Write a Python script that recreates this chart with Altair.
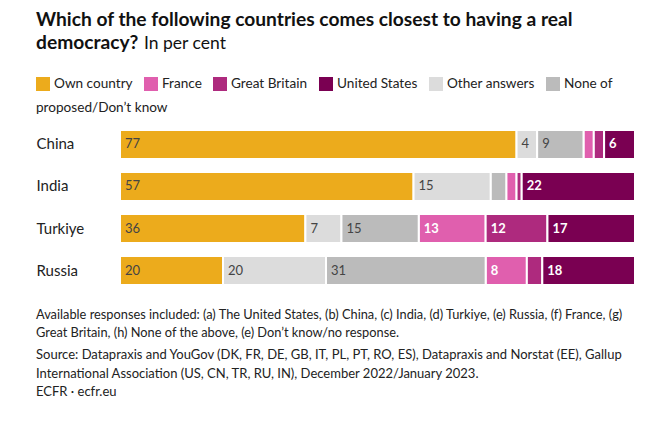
import altair as alt
import pandas as pd

countries = ["China", "India", "Turkiye", "Russia"]
categories = ["Own country", "France", "Great Britain", "United States",
              "Other answers", "None of proposed/Don't know"]
stack_order = ["Own country", "Other answers", "None of proposed/Don't know",
               "France", "Great Britain", "United States"]
colors = ["#ECAB1C", "#E05FAE", "#AE2A7E", "#7A0052", "#DCDCDC", "#BBBBBB"]
light_text = ["France", "Great Britain", "United States"]

own = [77, 57, 36, 20]
france = [2, 2, 13, 8]
britain = [2, 1, 12, 3]
usa = [6, 22, 17, 18]
other = [4, 15, 7, 20]
none_dk = [9, 3, 15, 31]

series = {
    "Own country": own,
    "France": france,
    "Great Britain": britain,
    "United States": usa,
    "Other answers": other,
    "None of proposed/Don't know": none_dk,
}

rows = []
for cat, vals in series.items():
    for c, v in zip(countries, vals):
        rows.append({
            "country": c,
            "category": cat,
            "value": v,
            "order": stack_order.index(cat),
            "label": str(v) if v >= 4 else "",
            "light": cat in light_text,
        })
df = pd.DataFrame(rows)

title_bold = ["Which of the following countries comes closest to having a real", "democracy?"]
title_rest = "In per cent"
legend_wrap = "proposed/Don\u2019t know"
note_lines = ("Available responses included: (a) The United States, (b) China, (c) India, (d) Turkiye, (e) Russia, (f) France, (g)\n"
              "Great Britain, (h) None of the above, (e) Don\u2019t know/no response.")
source_lines = ("Source: Datapraxis and YouGov (DK, FR, DE, GB, IT, PL, PT, RO, ES), Datapraxis and Norstat (EE), Gallup\n"
                "International Association (US, CN, TR, RU, IN), December 2022/January 2023.\n"
                "ECFR \u00b7 ecfr.eu")

FONT = "Lato"
W, H = 515, 155

base = alt.Chart(df).transform_stack(
    stack="value", groupby=["country"],
    sort=[alt.SortField("order", order="ascending")], as_=["x0", "x1"]
)

yenc = alt.Y("country:N", sort=countries,
             scale=alt.Scale(paddingInner=0.31, paddingOuter=0),
             axis=alt.Axis(title=None, domain=False, ticks=False, labelAlign="left",
                           labelPadding=84, labelFontSize=15, labelColor="#222",
                           labelFont=FONT))

bars = base.mark_bar(stroke="white", strokeWidth=2).encode(
    y=yenc,
    x=alt.X("x0:Q", scale=alt.Scale(domain=[0, 100]), axis=None),
    x2="x1:Q",
    color=alt.Color("category:N", sort=categories,
                    scale=alt.Scale(domain=categories, range=colors),
                    legend=alt.Legend(title=None, orient="none", legendX=-84, legendY=-53,
                                      direction="horizontal",
                                      symbolType="square", symbolSize=196,
                                      symbolStrokeWidth=0, labelFontSize=13.6, labelFont=FONT,
                                      labelColor="#222", columnPadding=11,
                                      labelOffset=4, labelLimit=300,
                                      labelExpr="length(datum.label) > 20 ? 'None of' : datum.label")),
)

dark_txt = base.transform_filter("!datum.light").mark_text(
    align="left", baseline="middle", dx=5, fontSize=13, font=FONT, color="#444"
).encode(y=alt.Y("country:N", sort=countries), x="x0:Q", text="label:N")

light_txt = base.transform_filter("datum.light").mark_text(
    align="left", baseline="middle", dx=5, fontSize=13, font=FONT, color="white",
    fontWeight="bold"
).encode(y=alt.Y("country:N", sort=countries), x="x0:Q", text="label:N")

title1 = alt.Chart(pd.DataFrame({"t": [title_bold[0]]})).mark_text(
    align="left", baseline="alphabetic", fontSize=19.2, font=FONT, fontWeight="bold", color="#111"
).encode(text="t:N", x=alt.value(-84), y=alt.value(-104.5))

title2 = alt.Chart(pd.DataFrame({"t": [title_bold[1]]})).mark_text(
    align="left", baseline="alphabetic", fontSize=19.2, font=FONT, fontWeight="bold", color="#111"
).encode(text="t:N", x=alt.value(-84), y=alt.value(-81.5))

rest = alt.Chart(pd.DataFrame({"t": [title_rest]})).mark_text(
    align="left", baseline="alphabetic", fontSize=17.5, font=FONT, color="#111"
).encode(text="t:N", x=alt.value(24), y=alt.value(-81.5))

wrap = alt.Chart(pd.DataFrame({"t": [legend_wrap]})).mark_text(
    align="left", baseline="middle", fontSize=13.6, font=FONT, color="#222"
).encode(text="t:N", x=alt.value(-84), y=alt.value(-22))

note = alt.Chart(pd.DataFrame({"t": [note_lines]})).mark_text(
    align="left", baseline="alphabetic", fontSize=12.8, font=FONT, color="#222",
    lineBreak="\n", lineHeight=18
).encode(text="t:N", x=alt.value(-84), y=alt.value(189))

source = alt.Chart(pd.DataFrame({"t": [source_lines]})).mark_text(
    align="left", baseline="alphabetic", fontSize=13, font=FONT, color="#222",
    lineBreak="\n", lineHeight=18.5
).encode(text="t:N", x=alt.value(-84), y=alt.value(229))

chart = alt.layer(bars, dark_txt, light_txt, title1, title2, rest, wrap, note, source).properties(
    width=W, height=H,
    autosize=alt.AutoSizeParams(type="none"),
    padding={"left": 112, "top": 122, "right": 10, "bottom": 125},
    background="white",
).configure_view(stroke=None)

chart.save("out.html", embed_options={"renderer": "svg", "actions": False})
